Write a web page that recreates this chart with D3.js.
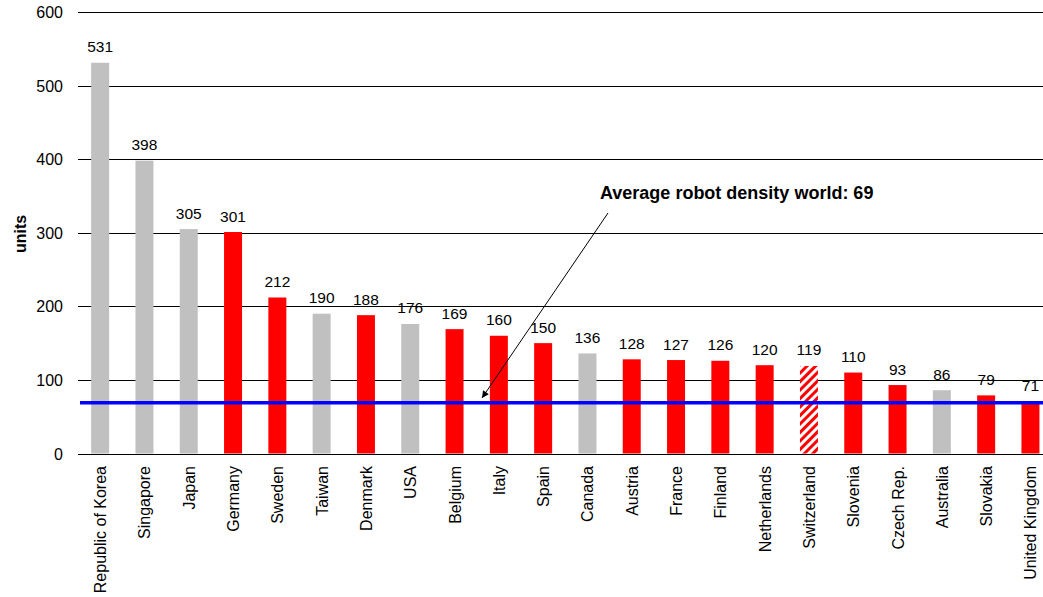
<!DOCTYPE html>
<html><head><meta charset="utf-8">
<script src="https://cdn.jsdelivr.net/npm/d3@7"></script>
<style>body{margin:0;background:#fff}svg{display:block;font-family:"Liberation Sans",Arial,sans-serif}</style>
</head><body><svg id="c" width="1043" height="597"></svg>
<script>
const countries = ["Republic of Korea","Singapore","Japan","Germany","Sweden","Taiwan","Denmark","USA","Belgium","Italy","Spain","Canada","Austria","France","Finland","Netherlands","Switzerland","Slovenia","Czech Rep.","Australia","Slovakia","United Kingdom"];
const density = [531,398,305,301,212,190,188,176,169,160,150,136,128,127,126,120,119,110,93,86,79,71];
const barType = ["grey","grey","grey","red","red","grey","red","grey","red","red","red","grey","red","red","red","red","hatch","red","red","grey","red","red"];
const yTicks = [0,100,200,300,400,500,600];
const worldAverage = 69;
const annotation = "Average robot density world: 69";

const svg = d3.select("#c");
const x = d3.scaleBand().domain(countries).range([78,1052.6]).paddingInner(0.594).paddingOuter(0.297);
const y = d3.scaleLinear().domain([0,600]).range([453.5,12]);

const defs = svg.append("defs");
const pat = defs.append("pattern").attr("id","hatch").attr("patternUnits","userSpaceOnUse")
  .attr("width",6).attr("height",6).attr("patternTransform","rotate(45)");
pat.append("rect").attr("width",6).attr("height",6).attr("fill","#fff");
pat.append("rect").attr("width",3).attr("height",6).attr("fill","#ff0000");

// gridlines
svg.append("g").selectAll("line").data(yTicks).join("line")
  .attr("x1",78).attr("x2",1043).attr("y1",d=>Math.round(y(d))+0.5).attr("y2",d=>Math.round(y(d))+0.5)
  .attr("stroke","#000").attr("stroke-width",1);
svg.append("g").selectAll("text").data(yTicks).join("text")
  .attr("x",63).attr("y",d=>y(d)+6).attr("text-anchor","end").attr("font-size",16).text(d=>d);

svg.append("text").attr("transform","translate(26,234) rotate(-90)").attr("text-anchor","middle")
  .attr("font-size",16).attr("font-weight","bold").text("units");

const fill = t => t==="grey" ? "#c0c0c0" : t==="red" ? "#ff0000" : "url(#hatch)";
svg.append("g").selectAll("rect").data(countries).join("rect")
  .attr("x",d=>x(d)).attr("width",x.bandwidth())
  .attr("y",(d,i)=>y(density[i])).attr("height",(d,i)=>y(0)-y(density[i]))
  .attr("fill",(d,i)=>fill(barType[i]));

svg.append("g").selectAll("text").data(countries).join("text")
  .attr("x",d=>x(d)+x.bandwidth()/2).attr("y",(d,i)=>y(density[i])-10.5)
  .attr("text-anchor","middle").attr("font-size",15.5).text((d,i)=>density[i]);

svg.append("g").selectAll("text").data(countries).join("text")
  .attr("transform",d=>`translate(${x(d)+x.bandwidth()/2+6},466) rotate(-90)`)
  .attr("text-anchor","end").attr("font-size",16).text(d=>d);

// average line
svg.append("line").attr("x1",80).attr("x2",1043).attr("y1",y(worldAverage)).attr("y2",y(worldAverage))
  .attr("stroke","#0000ff").attr("stroke-width",3.5);

// arrow
defs.append("marker").attr("id","arr").attr("viewBox","0 0 10 10").attr("refX",10).attr("refY",5)
  .attr("markerWidth",9).attr("markerHeight",7).attr("orient","auto").attr("markerUnits","userSpaceOnUse")
  .append("path").attr("d","M0,0L10,5L0,10z").attr("fill","#000");
svg.append("line").attr("x1",608).attr("y1",213).attr("x2",482).attr("y2",398)
  .attr("stroke","#000").attr("stroke-width",1).attr("marker-end","url(#arr)");
svg.append("text").attr("x",600).attr("y",199).attr("font-size",18).attr("font-weight","bold").text(annotation);
</script></body></html>
